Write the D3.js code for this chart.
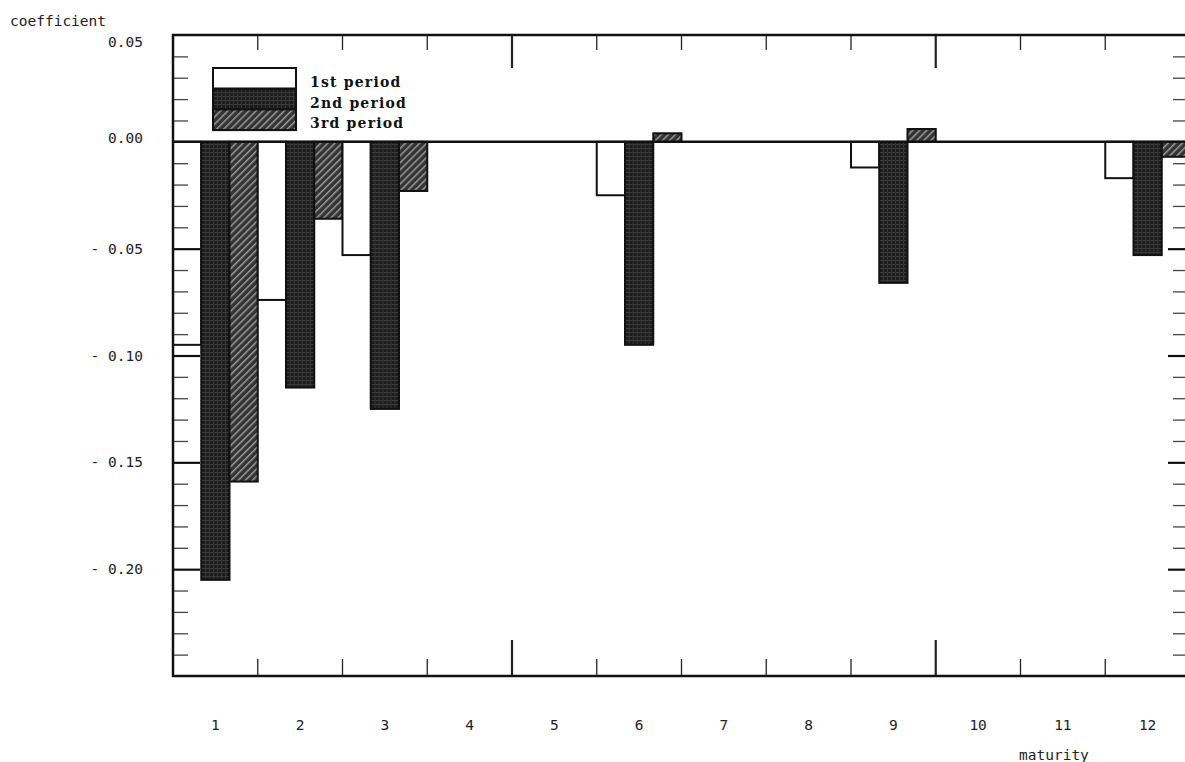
<!DOCTYPE html>
<html>
  <head>
    <meta charset="utf-8">
    <title>Coefficient by maturity</title>
    <script src="https://cdn.jsdelivr.net/npm/d3@7"></script>
    <style>
      body { margin: 0; background: #fff; }
      .lbl { font-family: "DejaVu Sans Mono", monospace; font-size: 14.5px; fill: #222; }
      .legend-text { font-family: "DejaVu Serif", serif; font-weight: bold; font-size: 14px; letter-spacing: 1.2px; fill: #111; }
    </style>
  </head>
  <body>
    <svg id="chart" width="1185" height="762"></svg>
    <script>
    // values (null = no bar drawn)
    var maturities = ["1", "2", "3", "4", "5", "6", "7", "8", "9", "10", "11", "12"];
    var periods = ["1st period", "2nd period", "3rd period"];
    var period1 = [-0.095, -0.074, -0.053, null, null, -0.025, null, null, -0.012, null, null, -0.017];
    var period2 = [-0.205, -0.115, -0.125, null, null, -0.095, null, null, -0.066, null, null, -0.053];
    var period3 = [-0.159, -0.036, -0.023, null, null, 0.004, null, null, 0.006, null, null, -0.007];
    var yTicks = [0.05, 0, -0.05, -0.10, -0.15, -0.20];
    var yTickLabels = ["0.05", "0.00", "- 0.05", "- 0.10", "- 0.15", "- 0.20"];

    var plotLeft = 173, plotRight = 1190, plotTop = 35, plotBottom = 676;

    var svg = d3.select("#chart");

    var x = d3.scaleBand().domain(maturities).range([plotLeft, plotRight]).padding(0);
    var xs = d3.scaleBand().domain(periods).range([0, x.bandwidth()]).padding(0);
    var y = d3.scaleLinear().domain([-0.25, 0.05]).range([plotBottom, plotTop]);

    // patterns
    var defs = svg.append("defs");
    var p2 = defs.append("pattern").attr("id", "pat2").attr("patternUnits", "userSpaceOnUse")
      .attr("width", 4).attr("height", 4);
    p2.append("rect").attr("width", 4).attr("height", 4).attr("fill", "#1d1d1d");
    p2.append("rect").attr("x", 0).attr("y", 0).attr("width", 4).attr("height", 1).attr("fill", "#3c3c3c");
    p2.append("rect").attr("x", 0).attr("y", 0).attr("width", 1).attr("height", 4).attr("fill", "#353535");

    var p3 = defs.append("pattern").attr("id", "pat3").attr("patternUnits", "userSpaceOnUse")
      .attr("width", 5).attr("height", 5).attr("patternTransform", "rotate(45)");
    p3.append("rect").attr("width", 5).attr("height", 5).attr("fill", "#333");
    p3.append("rect").attr("x", 0).attr("y", 0).attr("width", 1.5).attr("height", 5).attr("fill", "#9a9a9a");

    var fills = {"1st period": "#fff", "2nd period": "url(#pat2)", "3rd period": "url(#pat3)"};
    var seriesByPeriod = {"1st period": period1, "2nd period": period2, "3rd period": period3};

    // bars
    var groups = svg.append("g").selectAll("g")
      .data(maturities)
      .enter().append("g")
      .attr("transform", function(d) { return "translate(" + x(d) + ",0)"; });

    groups.selectAll("rect")
      .data(function(d, i) {
        return periods.map(function(p) { return {key: p, value: seriesByPeriod[p][i]}; })
          .filter(function(e) { return e.value !== null; });
      })
      .enter().append("rect")
      .attr("x", function(d) { return xs(d.key); })
      .attr("width", xs.bandwidth())
      .attr("y", function(d) { return Math.min(y(0), y(d.value)); })
      .attr("height", function(d) { return Math.abs(y(d.value) - y(0)); })
      .attr("fill", function(d) { return fills[d.key]; })
      .attr("stroke", "#111")
      .attr("stroke-width", 2);

    // ticks on left / right frame edges
    var minor = d3.range(-24, 5).map(function(v) { return v / 100; })
      .filter(function(v) { return Math.round(v * 100) % 5 !== 0; });
    var major = [-0.05, -0.10, -0.15, -0.20];

    svg.append("g").attr("transform", "translate(" + plotLeft + ",0)")
      .call(d3.axisRight(y).tickValues(minor).tickSize(15).tickFormat(""))
      .call(function(g) { g.select(".domain").remove(); })
      .selectAll("line").attr("stroke", "#444").attr("stroke-width", 1.3);
    svg.append("g").attr("transform", "translate(" + plotLeft + ",0)")
      .call(d3.axisRight(y).tickValues(major).tickSize(27).tickFormat(""))
      .call(function(g) { g.select(".domain").remove(); })
      .selectAll("line").attr("stroke", "#111").attr("stroke-width", 2.2);

    svg.append("g").attr("transform", "translate(" + plotRight + ",0)")
      .call(d3.axisLeft(y).tickValues(minor).tickSize(17).tickFormat(""))
      .call(function(g) { g.select(".domain").remove(); })
      .selectAll("line").attr("stroke", "#444").attr("stroke-width", 1.3);
    svg.append("g").attr("transform", "translate(" + plotRight + ",0)")
      .call(d3.axisLeft(y).tickValues(major).tickSize(22).tickFormat(""))
      .call(function(g) { g.select(".domain").remove(); })
      .selectAll("line").attr("stroke", "#111").attr("stroke-width", 2.2);

    // ticks on top / bottom between maturities
    var bounds = maturities.slice(1).map(function(m, i) { return {pos: x(m), major: (i + 1) % 5 === 4}; });
    svg.append("g").selectAll("line").data(bounds).enter().append("line")
      .attr("x1", function(d) { return d.pos; }).attr("x2", function(d) { return d.pos; })
      .attr("y1", plotTop).attr("y2", function(d) { return plotTop + (d.major ? 33 : 15); })
      .attr("stroke", "#222").attr("stroke-width", function(d) { return d.major ? 2.2 : 1.3; });
    svg.append("g").selectAll("line").data(bounds).enter().append("line")
      .attr("x1", function(d) { return d.pos; }).attr("x2", function(d) { return d.pos; })
      .attr("y1", plotBottom).attr("y2", function(d) { return plotBottom - (d.major ? 36 : 17); })
      .attr("stroke", "#222").attr("stroke-width", function(d) { return d.major ? 2.2 : 1.3; });

    // frame and zero line
    svg.append("path")
      .attr("d", "M" + plotRight + "," + plotTop + "H" + plotLeft + "V" + plotBottom + "H" + plotRight)
      .attr("fill", "none").attr("stroke", "#111").attr("stroke-width", 2.5);
    svg.append("line")
      .attr("x1", plotLeft).attr("x2", plotRight).attr("y1", y(0)).attr("y2", y(0))
      .attr("stroke", "#111").attr("stroke-width", 2.5);

    // y labels (the top one sits a little below the frame in the original)
    svg.append("g").selectAll("text").data(yTicks).enter().append("text")
      .attr("class", "lbl")
      .attr("x", 143)
      .attr("y", function(d) { return y(d) + (d > 0 ? 7 : d === 0 ? -4 : 0); })
      .attr("dy", "0.35em")
      .attr("text-anchor", "end")
      .text(function(d, i) { return yTickLabels[i]; });

    // x labels
    svg.append("g").attr("transform", "translate(0," + plotBottom + ")")
      .call(d3.axisBottom(x).tickSize(0).tickPadding(44))
      .call(function(g) { g.select(".domain").remove(); })
      .selectAll("text")
      .attr("class", "lbl")
      .attr("font-size", null).attr("font-family", null);

    svg.append("text").attr("class", "lbl").attr("x", 10).attr("y", 26).text("coefficient");
    svg.append("text").attr("class", "lbl").attr("x", 1019).attr("y", 760).text("maturity");

    // legend
    var legend = svg.append("g").attr("transform", "translate(213,68)");
    var rowH = 20.7;
    legend.selectAll("rect").data(periods).enter().append("rect")
      .attr("x", 0).attr("y", function(d, i) { return i * rowH; })
      .attr("width", 83).attr("height", rowH)
      .attr("fill", function(d) { return fills[d]; })
      .attr("stroke", "#111").attr("stroke-width", 2);
    legend.selectAll("text").data(periods).enter().append("text")
      .attr("class", "legend-text")
      .attr("x", 97)
      .attr("y", function(d, i) { return i * rowH + 19; })
      .text(function(d) { return d; });
    </script>
  </body>
</html>
